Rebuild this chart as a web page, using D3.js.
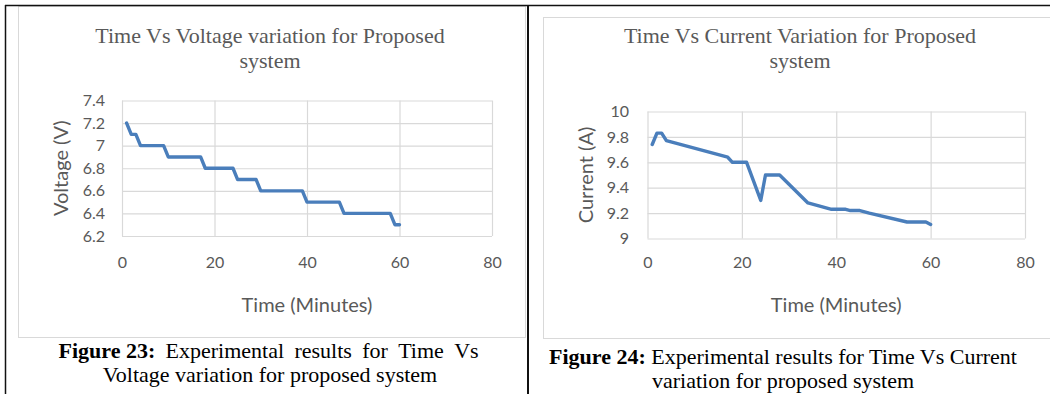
<!DOCTYPE html>
<html><head><meta charset="utf-8">
<script src="https://cdn.jsdelivr.net/npm/d3@7"></script>
<style>
html,body{margin:0;padding:0;background:#fff;}
svg{display:block;}
</style></head><body>
<svg id="page" width="1050" height="394"></svg>
<script>
// Voltage readings (V) against elapsed time (minutes)
const voltageTime   = [1, 2, 3, 4, 9, 10, 17, 18, 24, 25, 29, 30, 39, 40, 47, 48, 58, 59, 60];
const voltageValues = [7.2, 7.1, 7.1, 7.0, 7.0, 6.9, 6.9, 6.8, 6.8, 6.7, 6.7, 6.6, 6.6, 6.5, 6.5, 6.4, 6.4, 6.3, 6.3];
// Current readings (A) against elapsed time (minutes)
const currentTime   = [1, 2, 3, 4, 17, 18, 21, 24, 25, 28, 34, 39, 42, 43, 45, 47, 55, 59, 60];
const currentValues = [9.74, 9.83, 9.83, 9.77, 9.64, 9.6, 9.6, 9.3, 9.5, 9.5, 9.28, 9.23, 9.23, 9.22, 9.22, 9.2, 9.13, 9.13, 9.11];
// Axis ticks
const timeTicks    = [0, 20, 40, 60, 80];
const voltageTicks = [6.2, 6.4, 6.6, 6.8, 7, 7.2, 7.4];
const currentTicks = [9, 9.2, 9.4, 9.6, 9.8, 10];
// Text
const voltageTitle   = ["Time Vs Voltage variation for Proposed", "system"];
const currentTitle   = ["Time Vs Current Variation for Proposed", "system"];
const xAxisTitle     = "Time (Minutes)";
const voltageAxisTitle = "Voltage (V)";
const currentAxisTitle = "Current (A)";
const voltageCaption = [["Figure 23:", "Experimental", "results", "for", "Time", "Vs"], "Voltage variation for proposed system"];
const currentCaption = [["Figure 24:", " Experimental results for Time Vs Current"], "variation for proposed system"];

const svg = d3.select("#page");
svg.append("rect").attr("width", 1050).attr("height", 394).attr("fill", "#fff");

const GRID = "#d9d9d9", TEXT = "#595959", LINE = "#4a7ebb";
const SANS = "Lato, 'Open Sans', sans-serif";
const SERIF = "'Liberation Serif', 'Times New Roman', serif";

function drawChart(cfg) {
  const g = svg.append("g");
  // chart area frame
  g.append("rect")
    .attr("x", cfg.box[0] + 0.5).attr("y", cfg.box[1] + 0.5)
    .attr("width", cfg.box[2] - cfg.box[0]).attr("height", cfg.box[3] - cfg.box[1])
    .attr("fill", "#fff").attr("stroke", GRID).attr("stroke-width", 1);

  const x = d3.scaleLinear().domain([0, 80]).range([cfg.plot[0], cfg.plot[1]]);
  const y = d3.scaleLinear().domain(cfg.yDomain).range([cfg.plot[3], cfg.plot[2]]);
  const w = cfg.plot[1] - cfg.plot[0], h = cfg.plot[3] - cfg.plot[2];

  // gridlines
  g.append("g").attr("transform", `translate(0,${cfg.plot[3]})`)
    .call(d3.axisBottom(x).tickValues(timeTicks).tickSize(-h).tickFormat(""))
    .call(a => a.select(".domain").remove())
    .call(a => a.selectAll("line").attr("stroke", GRID).attr("stroke-width", 1.2));
  g.append("g").attr("transform", `translate(${cfg.plot[0]},0)`)
    .call(d3.axisLeft(y).tickValues(cfg.yTicks).tickSize(-w).tickFormat(""))
    .call(a => a.select(".domain").remove())
    .call(a => a.selectAll("line").attr("stroke", GRID).attr("stroke-width", 1.2));

  // tick labels
  g.append("g").attr("transform", `translate(0,${cfg.plot[3]})`)
    .call(d3.axisBottom(x).tickValues(timeTicks).tickSize(0).tickPadding(cfg.xPad).tickFormat(d => String(d)))
    .call(a => a.select(".domain").remove())
    .call(a => a.selectAll("text").attr("fill", TEXT).style("font-family", SANS).style("font-size", "16px"));
  g.append("g").attr("transform", `translate(${cfg.plot[0]},0)`)
    .call(d3.axisLeft(y).tickValues(cfg.yTicks).tickSize(0).tickPadding(cfg.yPad).tickFormat(d => String(d)))
    .call(a => a.select(".domain").remove())
    .call(a => a.selectAll("text").attr("fill", TEXT).style("font-family", SANS).style("font-size", "16px"));

  // series
  const pts = cfg.time.map((t, i) => [t, cfg.values[i]]);
  g.append("path").datum(pts)
    .attr("fill", "none").attr("stroke", LINE).attr("stroke-width", 3.4)
    .attr("stroke-linejoin", "round").attr("stroke-linecap", "round")
    .attr("d", d3.line().x(d => x(d[0])).y(d => y(d[1])));

  // chart title
  cfg.title.forEach((s, i) => {
    g.append("text").attr("x", cfg.titleX).attr("y", 43 + i * 25)
      .attr("text-anchor", "middle").attr("fill", TEXT)
      .style("font-family", SERIF).style("font-size", "22px").text(s);
  });

  // axis titles
  g.append("text").attr("x", (cfg.plot[0] + cfg.plot[1]) / 2).attr("y", 311.5)
    .attr("text-anchor", "middle").attr("fill", TEXT)
    .style("font-family", SANS).style("font-size", "20px").text(xAxisTitle);
  g.append("text")
    .attr("transform", `translate(${cfg.yTitleX},${(cfg.plot[2] + cfg.plot[3]) / 2}) rotate(-90)`)
    .attr("text-anchor", "middle").attr("fill", TEXT)
    .style("font-family", SANS).style("font-size", "20px").text(cfg.yTitle);
}

drawChart({
  box: [18, 6, 525, 337], plot: [122, 492, 100.5, 236], yDomain: [6.2, 7.4],
  yTicks: voltageTicks, time: voltageTime, values: voltageValues,
  xPad: 20.5, yPad: 17, title: voltageTitle, titleX: 270, yTitle: voltageAxisTitle, yTitleX: 68
});
drawChart({
  box: [543, 17, 1060, 338], plot: [647.5, 1025, 111.5, 238.5], yDomain: [9, 10],
  yTicks: currentTicks, time: currentTime, values: currentValues,
  xPad: 18, yPad: 18.5, title: currentTitle, titleX: 800, yTitle: currentAxisTitle, yTitleX: 593
});

// captions
const capFont = sel => sel.style("font-family", SERIF).style("font-size", "22px").attr("fill", "#000");

// justified first caption line: words spread between two edges
(function () {
  const words = voltageCaption[0];
  const left = 58.5, right = 478.6, base = 358;
  const nodes = words.map((wd, i) => capFont(svg.append("text"))
    .attr("y", base).style("font-weight", i === 0 ? "bold" : "normal").text(wd));
  const widths = nodes.map(n => n.node().getComputedTextLength());
  const gap = (right - left - d3.sum(widths)) / (words.length - 1);
  let cx = left;
  nodes.forEach((n, i) => { n.attr("x", cx); cx += widths[i] + gap; });
})();
capFont(svg.append("text")).attr("x", 270).attr("y", 382).attr("text-anchor", "middle").text(voltageCaption[1]);

const c2 = capFont(svg.append("text")).attr("x", 783).attr("y", 364).attr("text-anchor", "middle");
c2.append("tspan").style("font-weight", "bold").text(currentCaption[0][0]);
c2.append("tspan").text(currentCaption[0][1]);
capFont(svg.append("text")).attr("x", 783).attr("y", 388).attr("text-anchor", "middle").text(currentCaption[1]);

// page frame lines
svg.append("line").attr("x1", 5).attr("x2", 1050).attr("y1", 5.5).attr("y2", 5.5).attr("stroke", "#111").attr("stroke-width", 1.5);
svg.append("line").attr("x1", 5.5).attr("x2", 5.5).attr("y1", 5).attr("y2", 394).attr("stroke", "#111").attr("stroke-width", 1.5);
svg.append("line").attr("x1", 528).attr("x2", 528).attr("y1", 5).attr("y2", 394).attr("stroke", "#111").attr("stroke-width", 2);
</script>
</body></html>
